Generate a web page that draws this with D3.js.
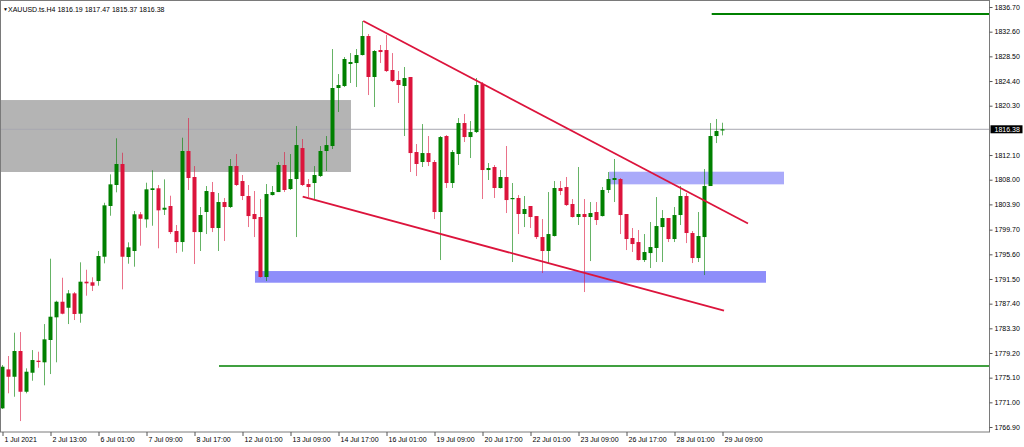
<!DOCTYPE html>
<html><head><meta charset="utf-8">
<script src="https://cdn.jsdelivr.net/npm/d3@7/dist/d3.min.js"></script>
<style>
html,body{margin:0;padding:0;background:#fff;}
svg{display:block;}
text{font-family:"Liberation Sans",Arial,sans-serif;}
</style></head>
<body>
<svg id="c" width="1024" height="447"></svg>
<script>
// ---- data (XAUUSD H4) ----
const open = [1770.00,1776.48,1775.25,1779.53,1772.76,1775.92,1777.92,1777.65,1781.36,1785.13,1787.72,1786.72,1789.11,1785.73,1791.05,1790.95,1791.16,1795.20,1803.63,1807.12,1810.61,1795.15,1796.15,1802.25,1801.41,1806.29,1806.57,1803.01,1803.63,1799.47,1797.64,1812.77,1808.45,1799.30,1802.63,1805.95,1799.97,1804.29,1803.46,1810.27,1807.78,1805.29,1802.30,1801.80,1791.83,1805.45,1805.95,1810.44,1806.45,1808.11,1813.26,1807.28,1807.45,1808.61,1812.77,1813.60,1823.24,1823.57,1827.23,1827.39,1828.72,1831.88,1825.07,1829.55,1829.55,1826.23,1824.57,1823.57,1825.07,1812.60,1810.94,1812.43,1810.94,1802.63,1815.26,1807.45,1812.27,1817.42,1815.09,1815.92,1823.90,1809.61,1810.11,1806.62,1808.45,1804.79,1804.96,1802.30,1803.63,1801.96,1798.47,1796.15,1798.64,1806.62,1806.78,1803.96,1801.80,1802.30,1801.80,1802.63,1801.96,1806.29,1807.95,1808.11,1802.30,1798.31,1797.64,1794.65,1795.81,1796.65,1800.13,1801.63,1798.14,1802.13,1805.29,1799.14,1794.98,1798.47,1806.95,1815.26,1816.19];
const high = [1777.20,1778.70,1782.57,1782.68,1776.65,1779.69,1779.41,1784.01,1794.87,1787.89,1791.71,1789.66,1789.33,1794.27,1793.04,1791.78,1796.15,1804.17,1808.89,1814.88,1812.48,1797.59,1802.80,1802.63,1807.50,1809.56,1807.12,1808.06,1805.34,1800.47,1814.98,1818.25,1810.27,1803.46,1806.95,1807.62,1805.79,1804.96,1811.44,1812.27,1808.78,1807.12,1806.12,1804.79,1807.28,1806.95,1810.94,1812.60,1812.27,1816.92,1814.76,1808.11,1810.27,1813.60,1815.26,1829.72,1825.56,1828.39,1829.05,1829.72,1834.37,1832.21,1829.55,1830.39,1832.05,1829.05,1826.06,1826.73,1825.07,1813.93,1817.25,1815.26,1811.27,1815.26,1815.42,1812.93,1818.25,1818.92,1817.75,1824.90,1824.23,1810.77,1810.44,1809.61,1813.60,1807.45,1805.45,1805.29,1803.63,1801.96,1801.46,1805.95,1807.78,1807.78,1808.45,1804.79,1810.11,1804.79,1804.29,1804.29,1806.78,1809.28,1811.44,1808.28,1802.30,1799.97,1799.64,1798.97,1800.97,1805.12,1802.96,1801.63,1803.46,1806.95,1805.79,1799.47,1802.63,1809.77,1817.42,1818.09,1817.47];
const low = [1769.89,1772.50,1771.93,1767.89,1772.50,1774.59,1776.75,1773.83,1775.70,1777.65,1785.63,1784.01,1784.68,1784.23,1788.72,1789.50,1790.38,1794.10,1802.01,1805.90,1789.78,1794.04,1793.54,1797.03,1800.02,1800.35,1796.60,1802.13,1798.97,1795.81,1796.03,1806.29,1793.99,1796.15,1798.97,1799.30,1796.15,1797.81,1803.29,1806.95,1804.62,1800.13,1798.47,1791.74,1791.16,1805.37,1805.95,1805.95,1806.29,1798.47,1806.95,1805.12,1804.79,1808.45,1809.44,1813.10,1819.25,1823.40,1824.07,1823.40,1828.64,1822.07,1820.08,1827.39,1825.90,1824.23,1820.75,1815.26,1809.28,1808.61,1810.11,1810.27,1801.46,1794.65,1806.62,1806.62,1810.44,1814.26,1811.60,1815.76,1804.79,1807.95,1804.96,1806.54,1802.46,1794.32,1798.97,1800.13,1799.97,1798.14,1792.49,1794.15,1798.56,1805.45,1803.63,1801.71,1800.47,1789.33,1794.48,1800.47,1801.88,1805.79,1804.29,1798.97,1796.31,1795.98,1794.57,1794.32,1793.32,1794.32,1794.32,1797.64,1797.64,1800.47,1797.47,1794.15,1794.32,1792.16,1806.95,1814.09,1815.37];
const close = [1776.92,1775.25,1779.53,1772.76,1776.09,1778.03,1777.70,1781.47,1785.23,1787.72,1785.73,1789.11,1785.68,1791.05,1790.78,1790.38,1795.32,1803.74,1807.23,1810.61,1795.20,1796.76,1802.25,1801.51,1806.40,1806.57,1802.91,1803.34,1799.30,1797.64,1812.77,1808.28,1799.30,1802.13,1806.12,1799.97,1804.29,1803.46,1810.27,1807.12,1805.29,1801.96,1801.46,1791.83,1805.62,1805.95,1810.44,1806.29,1808.11,1813.76,1807.12,1806.78,1808.78,1812.77,1813.76,1823.24,1823.74,1828.06,1827.56,1828.72,1831.88,1825.07,1829.39,1829.22,1826.06,1824.40,1823.74,1824.90,1812.43,1810.61,1812.43,1810.94,1802.63,1815.09,1807.45,1812.60,1817.42,1815.09,1815.92,1823.74,1809.61,1809.94,1806.62,1808.45,1804.62,1804.96,1802.30,1803.13,1801.80,1798.47,1796.15,1798.97,1806.62,1806.12,1803.79,1801.80,1802.30,1801.80,1802.46,1801.30,1806.29,1808.11,1808.28,1802.13,1798.14,1797.31,1794.65,1795.98,1796.81,1800.30,1801.63,1798.14,1802.13,1805.29,1799.14,1794.98,1798.64,1806.95,1815.26,1816.09,1816.38];

const priceTicks = [1836.70,1832.60,1828.50,1824.40,1820.30,1812.10,1808.00,1803.90,1799.70,1795.60,1791.50,1787.40,1783.30,1779.20,1775.10,1771.00,1766.90];
const timeTickBars = [0,8,16,24,32,40,48,56,64,72,80,88,96,104,112,120];
const timeLabels = ["1 Jul 2021","2 Jul 13:00","6 Jul 01:00","7 Jul 09:00","8 Jul 17:00","12 Jul 01:00","13 Jul 09:00","14 Jul 17:00","16 Jul 01:00","19 Jul 09:00","20 Jul 17:00","22 Jul 01:00","23 Jul 09:00","26 Jul 17:00","28 Jul 01:00","29 Jul 09:00"];
const symbol = "XAUUSD.ts.H4";
const lastPrice = 1816.38;

// drawn objects (bar index, price)
const zoneGrey = [-3, 58.08, 1809.28, 1821.24];
const zoneBlueUpper = [101.1, 130.25, 1807.23, 1809.33];
const zoneBlueLower = [42.08, 127.25, 1790.88, 1792.82];
const trendUpper = [[60.13, 1834.37],[124.25, 1800.72]];
const trendLower = [[50.03, 1805.17],[120.25, 1786.26]];
const levelTop = [118.2, 1835.54];
const levelBottom = [36.08, 1777.03];

// ---- layout ----
const L = 1, T = 1, R = 989.5, B = 432;
const svg = d3.select("#c");
const x = d3.scaleLinear().domain([0,120]).range([2.5,722.5]);
const y = d3.scaleLinear().domain([1766.07,1837.70]).range([432,1]);

svg.append("defs").append("clipPath").attr("id","pc")
  .append("rect").attr("x",L).attr("y",T).attr("width",R-L).attr("height",B-T);
const g = svg.append("g").attr("clip-path","url(#pc)");

function zone(z, col){
  g.append("rect").attr("x",x(z[0])).attr("width",x(z[1])-x(z[0]))
   .attr("y",y(z[3])).attr("height",y(z[2])-y(z[3])).attr("fill",col);
}
zone(zoneGrey,"#b4b4b4");
zone(zoneBlueUpper,"#aaaafa");
zone(zoneBlueLower,"#8e8efa");

// current price line
g.append("line").attr("x1",L).attr("x2",R).attr("y1",y(lastPrice)).attr("y2",y(lastPrice))
  .attr("stroke","#a8a8b0").attr("stroke-width",1);

// horizontal levels
[levelTop, levelBottom].forEach((lv,k)=>{
  g.append("line").attr("x1",x(lv[0])).attr("x2",R).attr("y1",y(lv[1])).attr("y2",y(lv[1]))
   .attr("stroke","#008000").attr("stroke-width",k===0?1.8:1.5);
});

// candles
const bars = d3.range(open.length).map(i=>({i,o:open[i],h:high[i],l:low[i],c:close[i]}));
const UP="#008000", DN="#dc143c";
const cg = g.append("g");
cg.selectAll("line.w").data(bars).join("line").attr("class","w")
  .attr("x1",d=>x(d.i)).attr("x2",d=>x(d.i)).attr("y1",d=>y(d.h)).attr("y2",d=>y(d.l))
  .attr("stroke",d=>d.c>=d.o?UP:DN).attr("stroke-opacity",0.6).attr("stroke-width",1);
cg.selectAll("rect.b").data(bars).join("rect").attr("class","b")
  .attr("x",d=>x(d.i)-2).attr("width",4)
  .attr("y",d=>y(Math.max(d.o,d.c)))
  .attr("height",d=>Math.max(1.2, Math.abs(y(d.o)-y(d.c))))
  .attr("fill",d=>d.c>=d.o?UP:DN);

// trend lines
[trendUpper, trendLower].forEach(t=>{
  g.append("line").attr("x1",x(t[0][0])).attr("y1",y(t[0][1])).attr("x2",x(t[1][0])).attr("y2",y(t[1][1]))
   .attr("stroke","#dc143c").attr("stroke-width",1.8);
});

// frame
svg.append("rect").attr("x",L-0.5).attr("y",T-0.5).attr("width",R-L+0.5).attr("height",B-T+0.5)
  .attr("fill","none").attr("stroke","#7a7a7a").attr("stroke-width",1);

// right price axis
const ya = svg.append("g").attr("transform",`translate(${R},0)`)
  .call(d3.axisRight(y).tickValues(priceTicks).tickSize(3).tickPadding(2).tickFormat(d3.format(".2f")));
ya.select(".domain").remove();
ya.selectAll("line").attr("stroke","#555");
ya.selectAll("text").attr("font-size","7px").attr("fill","#000")
  .attr("font-family","'Liberation Sans',Arial,sans-serif");

// current price label
const py = y(lastPrice);
svg.append("rect").attr("x",R+1).attr("y",py-4).attr("width",32).attr("height",8).attr("fill","#000");
svg.append("text").attr("x",R+5).attr("y",py).attr("dy","0.34em").attr("font-size","7px")
  .attr("fill","#fff").text(d3.format(".2f")(lastPrice));

// bottom time axis
const xa = svg.append("g").attr("transform",`translate(0,${B})`)
  .call(d3.axisBottom(x).tickValues(timeTickBars).tickSize(4).tickPadding(1)
    .tickFormat((d,i)=>timeLabels[i]));
xa.select(".domain").remove();
xa.selectAll("line").attr("stroke","#555");
xa.selectAll("text").attr("text-anchor","start").attr("dx","1.5").attr("font-size","7px").attr("fill","#000")
  .attr("font-family","'Liberation Sans',Arial,sans-serif");

// header
svg.append("text").attr("x",3).attr("y",11).attr("font-size","5px").attr("fill","#000").text("▼");
svg.append("text").attr("x",8).attr("y",11.5).attr("font-size","7px").attr("fill","#000")
  .text(symbol + "  " + [open[120],high[120],low[120],close[120]].map(d3.format(".2f")).join(" "));
</script>
</body></html>
